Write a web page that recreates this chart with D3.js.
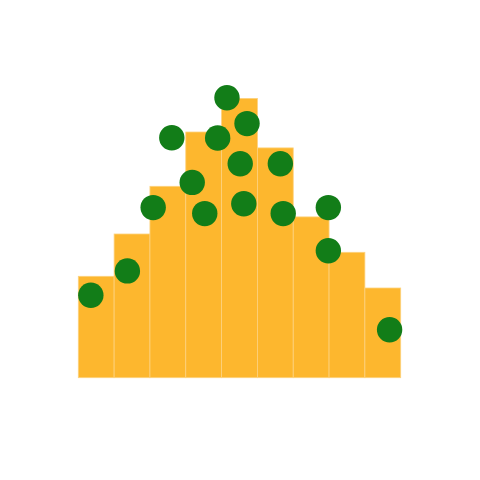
<!DOCTYPE html>
<html>
<head>
<meta charset="utf-8">
<script src="https://cdn.jsdelivr.net/npm/d3@7"></script>
<style>
  body { margin: 0; background: #fff; }
  svg { display: block; }
</style>
</head>
<body>
<svg width="480" height="480"></svg>
<script>
// bar heights, one per bin (bins are 0..1, 1..2, ... on x)
const binValues = [33.8, 47.9, 63.8, 81.9, 93.1, 76.6, 53.6, 41.8, 29.9]
// scattered points
const pointX = [0.35, 1.37, 2.09, 2.61, 3.18, 3.53, 3.89, 4.15, 4.71, 4.52, 4.62, 5.64, 5.72, 6.98, 6.98, 8.69]
const pointY = [27.5, 35.6, 56.7, 80.0, 65.1, 54.7, 79.9, 93.3, 84.7, 71.3, 58.0, 71.3, 54.7, 56.7, 42.3, 16.0]

const svg = d3.select('svg')
const width = +svg.attr('width')
const height = +svg.attr('height')
const margin = {top: 77.7, right: 79.3, bottom: 102.3, left: 78.3}

const xScale = d3.scaleLinear()
  .domain([0, binValues.length])
  .range([margin.left, width - margin.right])
const yScale = d3.scaleLinear()
  .domain([0, 100])
  .range([height - margin.bottom, margin.top])

svg.append('g')
  .selectAll('rect')
  .data(binValues)
  .join('rect')
  .attr('x', (d, i) => xScale(i))
  .attr('y', d => yScale(d))
  .attr('width', xScale(1) - xScale(0))
  .attr('height', d => yScale(0) - yScale(d))
  .attr('fill', '#fdb72e')
  .attr('stroke', '#fdd27e')
  .attr('stroke-width', 0.8)

const points = pointX.map((x, i) => ({x: x, y: pointY[i]}))

svg.append('g')
  .selectAll('circle')
  .data(points)
  .join('circle')
  .attr('cx', d => xScale(d.x))
  .attr('cy', d => yScale(d.y))
  .attr('r', 12.7)
  .attr('fill', '#127d18')
</script>
</body>
</html>
